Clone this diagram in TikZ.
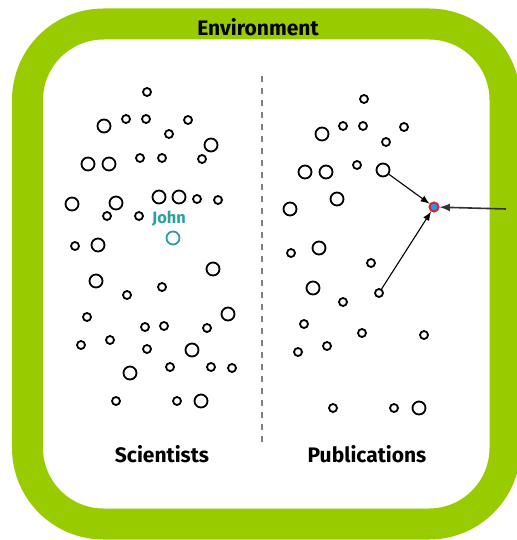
\documentclass[tikz,border=0pt]{standalone}
\usepackage{fontspec}
\setmainfont{Fira Sans}
\usepackage{xcolor}
\usepackage{tikz}
\usetikzlibrary{positioning}

\definecolor{envgreen}{RGB}{153,204,0}
\definecolor{johnteal}{RGB}{40,160,160}
\definecolor{hubblue}{RGB}{20,160,230}
\definecolor{hubred}{RGB}{225,30,60}

\begin{document}
\begin{tikzpicture}[x=0.5pt,y=-0.5pt]
	\tikzstyle{small}=[circle,draw=black,line width=0.9pt,minimum size=4pt,inner sep=0pt]
	\tikzstyle{big}=[circle,draw=black,line width=0.9pt,minimum size=6.5pt,inner sep=0pt]
	\tikzstyle{title}=[font=\bfseries\fontsize{10.5}{12}\selectfont]
	\useasboundingbox (0,0) rectangle (517,540);
	% frame and separator
	\draw[envgreen,line width=15.5pt,rounded corners=38pt] (27.5,24) rectangle (505,524);
	\draw[gray,dashed,line width=0.6pt] (262,76) -- (262,447);
	\node[title](env) at (258,27) {Environment};
	\node[title](sci) at (162,454) {Scientists};
	\node[title](pub) at (367,454) {Publications};
	% scientists
	\node[small](l1) at (147,92) {};
	\node[big](l2) at (104,126) {};
	\node[small](l3) at (126,119) {};
	\node[small](l4) at (146,119) {};
	\node[small](l5) at (188,120) {};
	\node[small](l6) at (169,134) {};
	\node[big](l7) at (211,145) {};
	\node[big](l8) at (88,164) {};
	\node[big](l9) at (109,164) {};
	\node[small](l10) at (140,158) {};
	\node[small](l11) at (162,158) {};
	\node[small](l12) at (202,159) {};
	\node[big](l13) at (72,204) {};
	\node[big](l14) at (116,203) {};
	\node[small](l15) at (107,216) {};
	\node[small](l16) at (139,216) {};
	\node[big](l17) at (159,197) {};
	\node[big](l18) at (179,197) {};
	\node[small](l19) at (197,199) {};
	\node[small](l20) at (218,200) {};
	\node[small](l21) at (75,246) {};
	\node[big](l22) at (98,245) {};
	\node[big](l23) at (213,269) {};
	\node[big](l24) at (96,281) {};
	\node[small](l25) at (127,295) {};
	\node[small](l26) at (162,287) {};
	\node[small](l27) at (87,317) {};
	\node[big](l28) at (228,314) {};
	\node[small](l29) at (145,327) {};
	\node[small](l30) at (164,326) {};
	\node[small](l31) at (207,328) {};
	\node[small](l32) at (81,345) {};
	\node[small](l33) at (110,340) {};
	\node[small](l34) at (147,349) {};
	\node[big](l35) at (192,350) {};
	\node[big](l36) at (130,373) {};
	\node[small](l37) at (170,367) {};
	\node[small](l38) at (211,367) {};
	\node[small](l39) at (232,368) {};
	\node[small](l40) at (116,401) {};
	\node[small](l41) at (177,401) {};
	\node[big](l42) at (201,401) {};
	\node[big,draw=johnteal](john) at (173,238) {};
	\node[text=johnteal,font=\bfseries\fontsize{8.2}{10}\selectfont](johnlbl) at (169,219) {John};
	% publications
	\node[small](r1) at (364,99) {};
	\node[big](r2) at (322,134) {};
	\node[small](r3) at (343,126) {};
	\node[small](r4) at (363,126) {};
	\node[small](r5) at (404,127) {};
	\node[small](r6) at (386,142) {};
	\node[big](r7) at (305,172) {};
	\node[big](r8) at (326,172) {};
	\node[small](r9) at (357,165) {};
	\node[big](r10) at (383,170) {};
	\node[big](r11) at (290,209) {};
	\node[big](r12) at (337,199) {};
	\node[small](r13) at (291,253) {};
	\node[big](r14) at (319,248) {};
	\node[small](r15) at (371,263) {};
	\node[big](r16) at (313,288) {};
	\node[small](r17) at (343,302) {};
	\node[small](r18) at (379,293) {};
	\node[small](r19) at (304,324) {};
	\node[small](r20) at (362,333) {};
	\node[small](r21) at (424,335) {};
	\node[small](r22) at (298,352) {};
	\node[small](r23) at (327,346) {};
	\node[small](r24) at (333,408) {};
	\node[small](r25) at (394,408) {};
	\node[big](r26) at (419,408) {};
	\node[circle,draw=hubred,fill=hubblue,line width=1pt,minimum size=4.5pt,inner sep=0pt](hub) at (434,207) {};
	\coordinate (src) at (506,209);
	\draw[-latex,line width=0.55pt](r10) -- (hub);
	\draw[-latex,line width=0.55pt](r18) -- (hub);
	\draw[-latex,line width=0.8pt,black!80](src) -- (hub);
\end{tikzpicture}
\end{document}
